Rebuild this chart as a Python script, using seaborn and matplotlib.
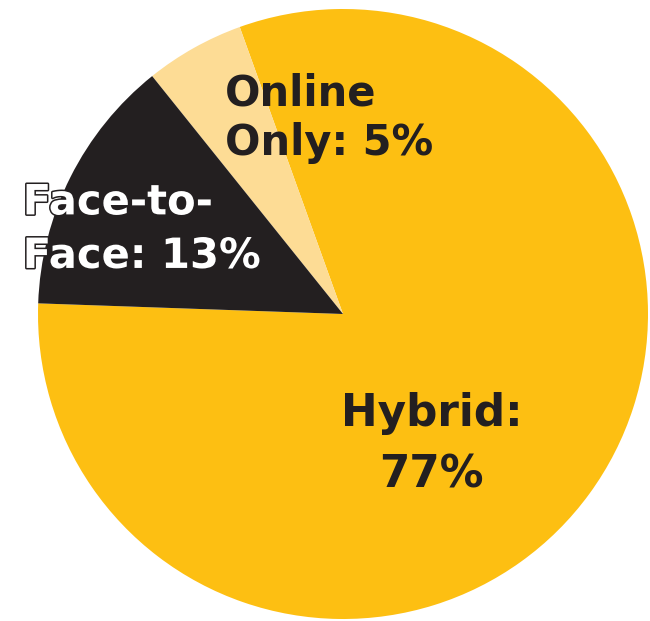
import matplotlib
matplotlib.use("Agg")
import matplotlib.pyplot as plt
import matplotlib.patheffects as pe
import seaborn as sns

# data
categories = ["Hybrid", "Online Only", "Face-to-Face"]
values = [77, 5, 13]
label_texts = ["Hybrid:\n77%", "Online\nOnly: 5%", "Face-to-\nFace: 13%"]
colors = ["#FDBF12", "#FDDC95", "#231F20"]

sns.set_theme(style="white")
plt.rcParams["font.family"] = ["DejaVu Sans"]

fig = plt.figure(figsize=(6.5, 6.21), dpi=100)
ax = fig.add_axes([38 / 650, 2 / 621, 610 / 650, 610 / 621])

ax.pie(values, colors=colors, startangle=178, counterclock=True,
       radius=1.0, wedgeprops=dict(linewidth=0))
ax.set_xlim(-1, 1)
ax.set_ylim(-1, 1)
ax.axis("off")

dark = "#231F20"
# label placement (axes data units, pie radius = 1), last-line baseline
pos = {
    "Hybrid": (0.29, -0.57, "center", 31.5, 1.55),
    "Online Only": (-0.387, 0.521, "left", 30, 1.22),
    "Face-to-Face": (-1.05, 0.151, "left", 30, 1.35),
}
for cat, txt in zip(categories, label_texts):
    x, y, ha, fs, ls = pos[cat]
    if cat == "Face-to-Face":
        ax.text(x, y, txt, ha=ha, va="baseline", fontsize=fs, fontweight="bold",
                color="white", linespacing=ls,
                path_effects=[pe.withStroke(linewidth=2.2, foreground=dark)])
    else:
        ax.text(x, y, txt, ha=ha, va="baseline", fontsize=fs, fontweight="bold",
                color=dark, linespacing=ls)

fig.savefig("out.png", dpi=100, facecolor="white")
